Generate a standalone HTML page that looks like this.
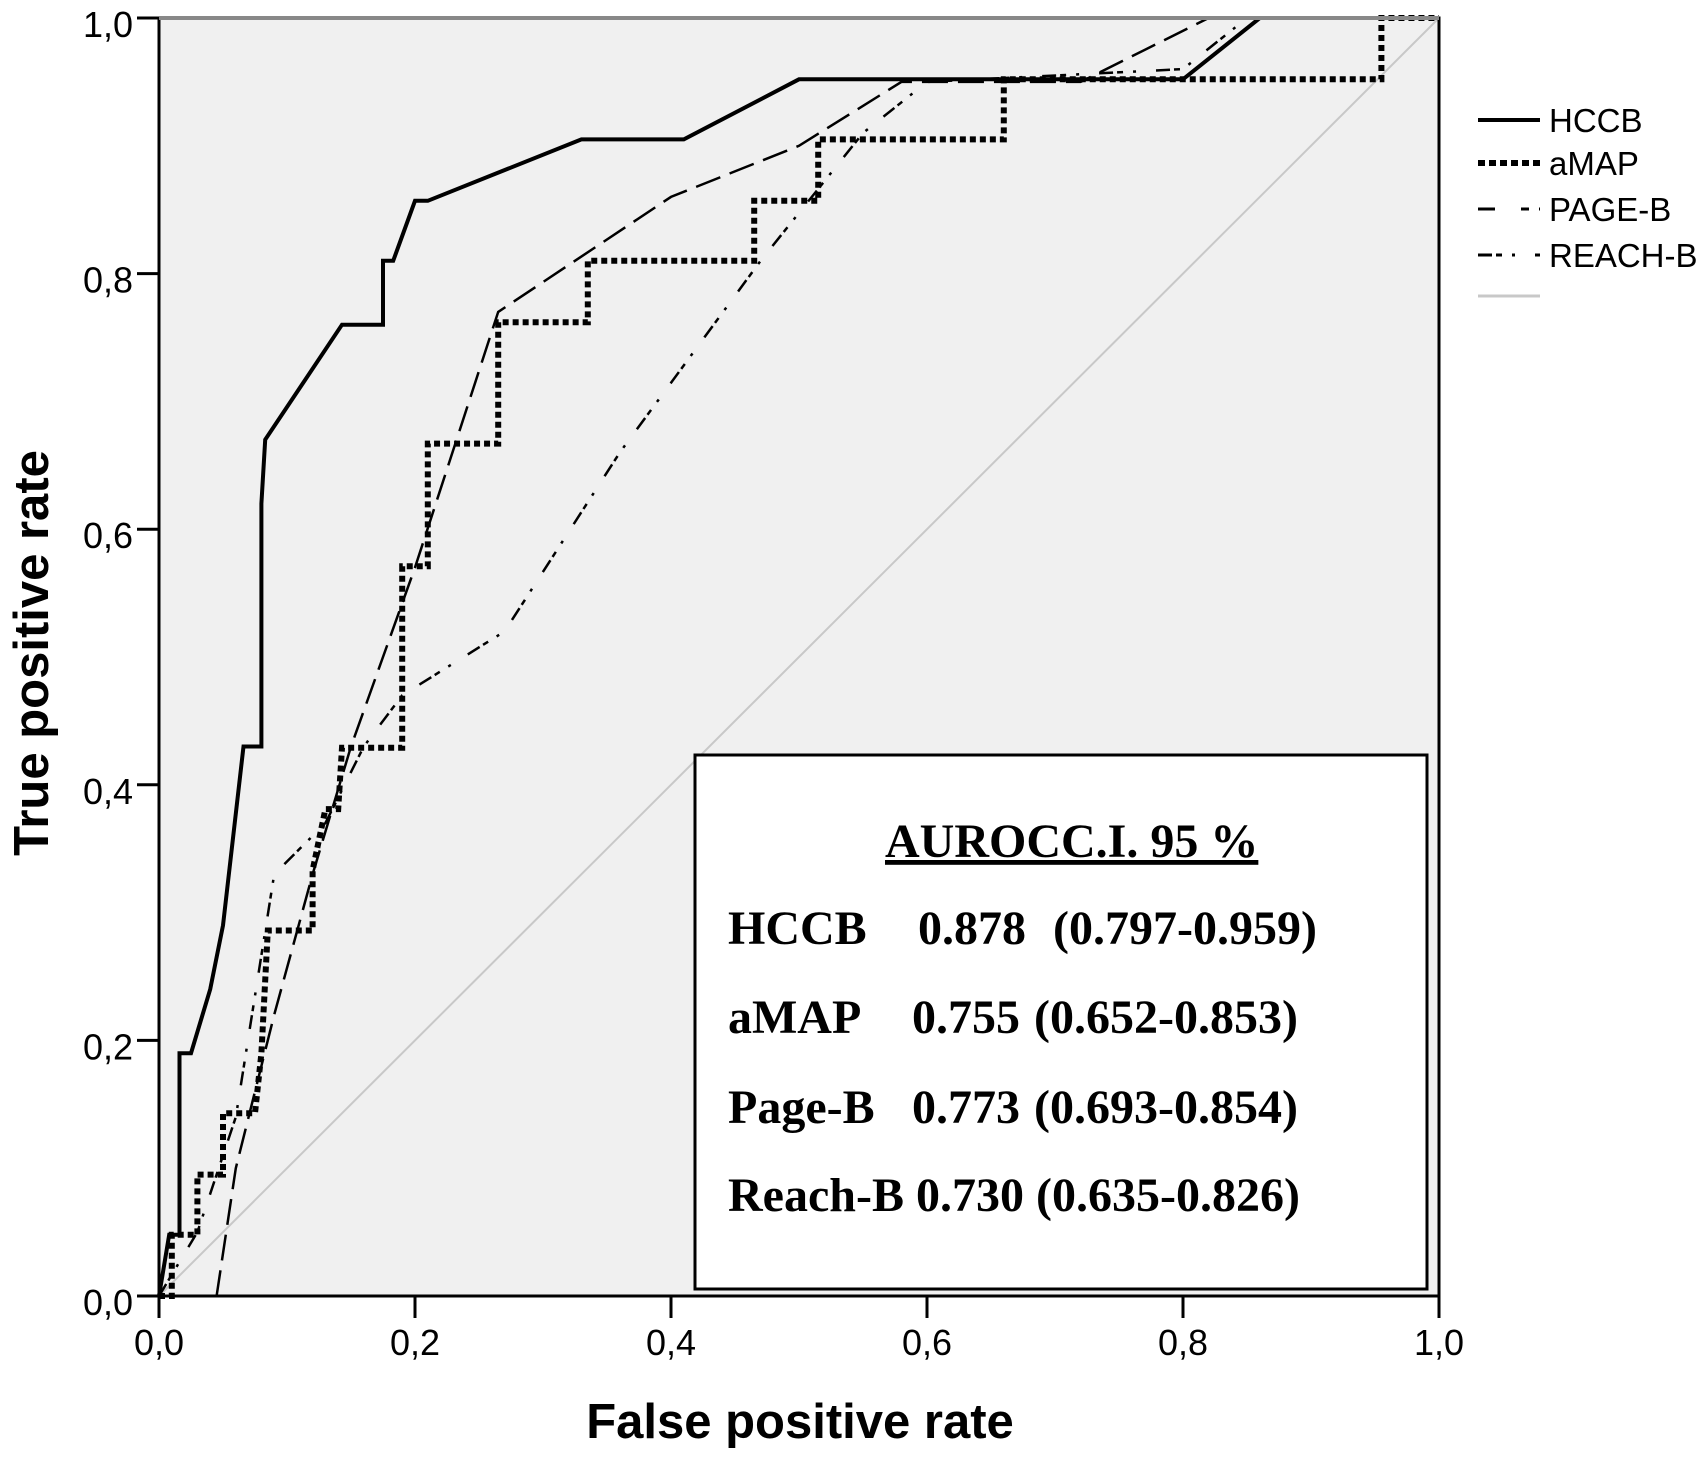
<!DOCTYPE html>
<html><head><meta charset="utf-8"><style>body{margin:0;background:#fff}svg{display:block}</style></head>
<body>
<svg id="chart" width="1708" height="1458" xmlns="http://www.w3.org/2000/svg" font-family="Liberation Sans, sans-serif">
<rect x="159" y="18" width="1280" height="1278" fill="#f0f0f0"/>
<g id="series"></g>
<rect x="159" y="18" width="1280" height="1278" fill="none" stroke="#000" stroke-width="3"/>
<line x1="159" y1="18" x2="1439" y2="18" stroke="#888" stroke-width="4"/>
<g id="ticks"></g>
<text x="800" y="1438" font-size="49" font-weight="bold" text-anchor="middle">False positive rate</text>
<text transform="translate(48,653) rotate(-90)" font-size="49" font-weight="bold" text-anchor="middle">True positive rate</text>
<g font-size="33">
<line x1="1478" y1="120" x2="1540" y2="120" stroke="#000" stroke-width="4"/>
<text x="1549" y="132">HCCB</text>
<line x1="1478" y1="163" x2="1540" y2="163" stroke="#000" stroke-width="6" stroke-dasharray="7,4"/>
<text x="1549" y="175">aMAP</text>
<line x1="1478" y1="209" x2="1540" y2="209" stroke="#000" stroke-width="3" stroke-dasharray="17,26,8,10"/>
<text x="1549" y="221">PAGE-B</text>
<line x1="1478" y1="255" x2="1540" y2="255" stroke="#000" stroke-width="3" stroke-dasharray="14,4,6,10,3,20"/>
<text x="1549" y="267">REACH-B</text>
<line x1="1478" y1="296" x2="1540" y2="296" stroke="#c8c8c8" stroke-width="3"/>
</g>
<g font-family="Liberation Serif, serif" font-weight="bold" font-size="48">
<rect x="695" y="755" width="732" height="534" fill="#fff" stroke="#000" stroke-width="3"/>
<text x="885" y="857" text-decoration="underline">AUROCC.I. 95 %</text>
<text x="728" y="944">HCCB</text><text x="918" y="944">0.878</text><text x="1053" y="944">(0.797-0.959)</text>
<text x="728" y="1033">aMAP</text><text x="912" y="1033">0.755</text><text x="1034" y="1033">(0.652-0.853)</text>
<text x="728" y="1123">Page-B</text><text x="912" y="1123">0.773</text><text x="1034" y="1123">(0.693-0.854)</text>
<text x="728" y="1211">Reach-B 0.730 (0.635-0.826)</text>
</g>
</svg>
<script>
const tickValues = [0, 0.2, 0.4, 0.6, 0.8, 1.0];
const tickLabels = ["0,0", "0,2", "0,4", "0,6", "0,8", "1,0"];
const hccbFpr = [0,0.008,0.016,0.016,0.025,0.04,0.05,0.066,0.08,0.08,0.083,0.143,0.175,0.175,0.183,0.2,0.21,0.33,0.41,0.5,0.8,0.86,1];
const hccbTpr = [0,0.048,0.048,0.19,0.19,0.24,0.29,0.43,0.43,0.62,0.67,0.76,0.76,0.81,0.81,0.857,0.857,0.905,0.905,0.952,0.952,1,1];
const amapFpr = [0,0.01,0.01,0.03,0.03,0.05,0.05,0.075,0.08,0.085,0.12,0.12,0.13,0.14,0.143,0.19,0.19,0.21,0.21,0.265,0.265,0.335,0.335,0.465,0.465,0.515,0.515,0.66,0.66,0.955,0.955,1];
const amapTpr = [0,0,0.048,0.048,0.095,0.095,0.143,0.143,0.19,0.286,0.286,0.333,0.381,0.381,0.429,0.429,0.571,0.571,0.667,0.667,0.762,0.762,0.81,0.81,0.857,0.857,0.905,0.905,0.952,0.952,1,1];
const pagebFpr = [0.045,0.06,0.09,0.12,0.15,0.2,0.265,0.34,0.4,0.5,0.58,0.72,0.82,1];
const pagebTpr = [0,0.1,0.22,0.33,0.43,0.57,0.77,0.82,0.86,0.9,0.95,0.95,1,1];
const reachbFpr = [0,0.03,0.06,0.09,0.13,0.16,0.19,0.27,0.36,0.47,0.55,0.6,0.8,0.85,1];
const reachbTpr = [0,0.05,0.14,0.33,0.37,0.43,0.47,0.52,0.66,0.81,0.91,0.95,0.96,1,1];
const refFpr = [0,1];
const refTpr = [0,1];

const NS = "http://www.w3.org/2000/svg";
const X0 = 159, X1 = 1439, Y0 = 1296, Y1 = 18;
const xs = v => X0 + v * (X1 - X0);
const ys = v => Y0 - v * (Y0 - Y1);

function mk(tag, attrs, parent) {
  const el = document.createElementNS(NS, tag);
  for (const k in attrs) el.setAttribute(k, attrs[k]);
  parent.appendChild(el);
  return el;
}
const ticks = document.getElementById('ticks');
tickValues.forEach((v, i) => {
  const a = mk('line', {x1: X0 - 22, y1: ys(v), x2: X0, y2: ys(v), stroke: '#000', 'stroke-width': 3}, ticks);
  
  
  const b = mk('line', {x1: xs(v), y1: Y0, x2: xs(v), y2: Y0 + 22, stroke: '#000', 'stroke-width': 3}, ticks);
  
  
  const t = mk('text', {x: X0 - 26, y: ys(v) + 19, 'font-size': 36, 'text-anchor': 'end'}, ticks);
  t.textContent = tickLabels[i];
  
  
  const u = mk('text', {x: xs(v), y: Y0 + 59, 'font-size': 36, 'text-anchor': 'middle'}, ticks);
  u.textContent = tickLabels[i];
  
  
});
const series = document.getElementById('series');
function line(fx, fy, style, name) {
  const d = fx.map((v, i) => (i ? 'L' : 'M') + xs(v).toFixed(1) + ',' + ys(fy[i]).toFixed(1)).join('');
  const p = mk('path', Object.assign({d: d, fill: 'none', 'stroke-linejoin': 'miter'}, style), series);
  
  
}
line(refFpr, refTpr, {stroke: '#c8c8c8', 'stroke-width': 2}, 'reference-diagonal');
line(reachbFpr, reachbTpr, {stroke: '#000', 'stroke-width': 2.5, 'stroke-dasharray': '14,4,6,10,3,20'}, 'reachb-curve');
line(pagebFpr, pagebTpr, {stroke: '#000', 'stroke-width': 2.5, 'stroke-dasharray': '26,10'}, 'pageb-curve');
line(amapFpr, amapTpr, {stroke: '#000', 'stroke-width': 6, 'stroke-dasharray': '6,4'}, 'amap-curve');
line(hccbFpr, hccbTpr, {stroke: '#000', 'stroke-width': 4}, 'hccb-curve');
</script>
</body></html>
